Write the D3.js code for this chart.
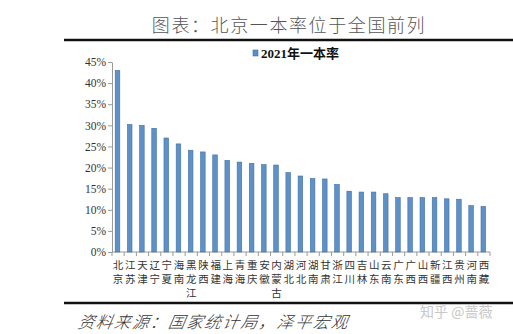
<!DOCTYPE html>
<html>
<head>
<meta charset="utf-8">
<script src="https://cdn.jsdelivr.net/npm/d3@7"></script>
<style>
  html, body { margin: 0; padding: 0; background: #fff; }
  svg { display: block; }
</style>
</head>
<body>
<svg id="chart" width="513" height="334"></svg>
<script>
// Provinces ordered by 2021 first-tier admission rate
const provinces = ["北京","江苏","天津","辽宁","宁夏","海南","黑龙江","陕西","福建","上海","青海","重庆","安徽","内蒙古","湖北","河北","湖南","甘肃","浙江","四川","吉林","山东","云南","广东","广西","山西","新疆","江西","贵州","河南","西藏"];
const rates2021 = [43.0,30.2,30.0,29.3,27.0,25.6,24.1,23.7,23.0,21.7,21.3,21.0,20.7,20.6,18.8,18.0,17.4,17.3,16.0,14.4,14.2,14.2,13.8,12.9,12.9,12.9,12.9,12.6,12.5,11.0,10.8];
const yTicks = [0,5,10,15,20,25,30,35,40,45];
const seriesName = "2021年一本率";
const titleText = "图表：北京一本率位于全国前列";
const sourceText = "资料来源：国家统计局，泽平宏观";
const markText = "知乎 @蔷薇";

const svg = d3.select("#chart");
const plot = { left: 112, right: 490, top: 62, bottom: 252 };

const x = d3.scaleBand().domain(provinces).range([plot.left, plot.right]).padding(0);
const y = d3.scaleLinear().domain([0, 45]).range([plot.bottom, plot.top]);

// Title and rules
svg.append("text")
  .attr("x", 289).attr("y", 32)
  .attr("text-anchor", "middle")
  .attr("font-family", "'Noto Sans CJK SC', sans-serif")
  .attr("font-weight", 300)
  .attr("font-size", 18)
  .attr("letter-spacing", 1.6)
  .attr("fill", "#555")
  .text(titleText);

svg.append("line").attr("x1", 64).attr("x2", 513).attr("y1", 40).attr("y2", 40)
  .attr("stroke", "#111").attr("stroke-width", 2.5);
svg.append("line").attr("x1", 64).attr("x2", 513).attr("y1", 303).attr("y2", 303)
  .attr("stroke", "#111").attr("stroke-width", 2.5);

// Legend
const legend = svg.append("g").attr("transform", "translate(253,53)");
legend.append("rect").attr("x", 0).attr("y", -3).attr("width", 5).attr("height", 6)
  .attr("fill", "#5b8dc6").attr("stroke", "#3f6fa5").attr("stroke-width", 0.6);
legend.append("text").attr("x", 8).attr("y", 4.5)
  .attr("font-family", "'Liberation Serif', 'Noto Sans CJK SC', serif")
  .attr("font-weight", "bold").attr("font-size", 13).attr("fill", "#111")
  .text(seriesName);

// Y axis
const yAxis = d3.axisLeft(y).tickValues(yTicks).tickFormat(d => d + "%").tickSize(4).tickSizeOuter(0);
const gy = svg.append("g").attr("transform", `translate(${plot.left},0)`).call(yAxis);
gy.select(".domain").attr("stroke", "#999");
gy.selectAll(".tick line").attr("stroke", "#999");
gy.selectAll(".tick text")
  .attr("font-family", "'Liberation Serif', serif")
  .attr("font-size", 11.5).attr("fill", "#333").attr("x", -6);

// X axis baseline with ticks between categories
const gx = svg.append("g");
gx.append("line").attr("x1", plot.left).attr("x2", plot.right)
  .attr("y1", plot.bottom).attr("y2", plot.bottom).attr("stroke", "#999");
const edges = provinces.map(p => x(p)).concat([plot.right]);
gx.selectAll("line.tk").data(edges).join("line").attr("class", "tk")
  .attr("x1", d => d).attr("x2", d => d)
  .attr("y1", plot.bottom).attr("y2", plot.bottom + 4).attr("stroke", "#999");

// Category labels, one character per line
svg.append("g").selectAll("text").data(provinces).join("text")
  .attr("font-family", "'Noto Sans CJK SC', sans-serif")
  .attr("font-size", 10.5).attr("fill", "#333")
  .attr("text-anchor", "middle")
  .each(function (p) {
    const cx = x(p) + x.bandwidth() / 2;
    const t = d3.select(this);
    Array.from(p).forEach((ch, i) => {
      t.append("tspan").attr("x", cx).attr("y", 269 + i * 14.2).text(ch);
    });
  });

// Bars
const barW = 4.6;
svg.append("g").selectAll("rect").data(provinces).join("rect")
  .attr("x", (d) => x(d) + x.bandwidth() / 2 - barW / 2 - 0.6)
  .attr("y", (d, i) => y(rates2021[i]))
  .attr("width", barW)
  .attr("height", (d, i) => plot.bottom - y(rates2021[i]))
  .attr("fill", "#5f91c9")
  .attr("stroke", "#416fa3").attr("stroke-width", 0.6);

// Source note and watermark
svg.append("text").attr("x", 78).attr("y", 328)
  .attr("font-family", "'Noto Sans CJK SC', sans-serif")
  .attr("font-style", "italic").attr("font-weight", 300)
  .attr("font-size", 16.5).attr("letter-spacing", 1.6).attr("fill", "#333")
  .attr("transform", "skewX(-10) translate(57,0)")
  .text(sourceText);

svg.append("text").attr("x", 420).attr("y", 317)
  .attr("font-family", "'Noto Sans CJK SC', sans-serif")
  .attr("font-size", 14).attr("fill", "#c8c8c8")
  .text(markText);
</script>
</body>
</html>
